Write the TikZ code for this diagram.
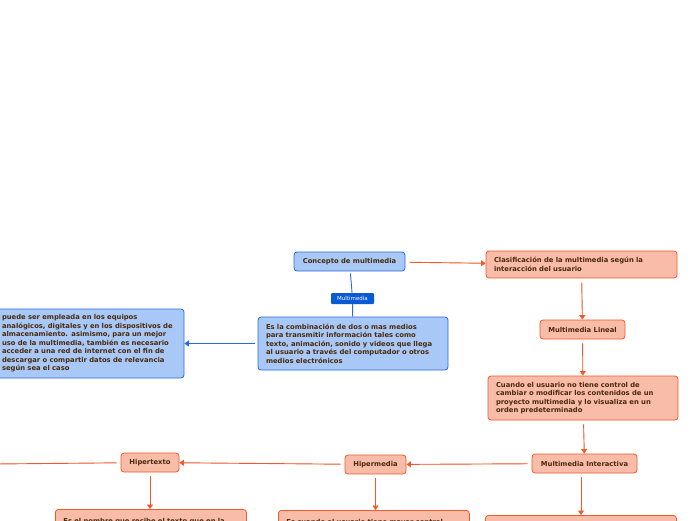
\documentclass[tikz,border=0pt]{standalone}
\usepackage{fontspec}
\setmainfont{DejaVu Sans}
\usetikzlibrary{arrows.meta,positioning}
\definecolor{bluefill}{HTML}{A8C8F8}
\definecolor{blueline}{HTML}{2A6AD8}
\definecolor{tagblue}{HTML}{0A5AD6}
\definecolor{orfill}{HTML}{F9BCA8}
\definecolor{orline}{HTML}{F2592B}
\definecolor{txt}{HTML}{4A2A0A}
\begin{document}
\begin{tikzpicture}[x=1pt, y=-1pt,
  every node/.style={font=\fontsize{6.8}{8.5}\selectfont\bfseries, text=txt},
  box/.style={draw, rounded corners=3pt, line width=0.8pt, inner sep=0pt, minimum height=19pt},
  bluebox/.style={box, fill=bluefill, draw=blueline},
  orbox/.style={box, fill=orfill, draw=orline},
  para/.style={align=left, inner xsep=8pt},
  tag/.style={fill=tagblue, text=white, rounded corners=1pt, inner sep=0pt,
    minimum width=43pt, minimum height=11pt, font=\fontsize{5.5}{6}\selectfont},
  bconn/.style={draw=blueline, line width=0.9pt},
  oconn/.style={-{Triangle[width=6pt,length=4.5pt]}, draw=orline, fill=orline, line width=0.9pt, shorten <=4pt}]
\useasboundingbox (0,0) rectangle (696,520);
\clip (0,0) rectangle (696,520);
% blue part
\node[bluebox, minimum width=111pt] (concept) at (349.5,261.5) {Concepto de multimedia};
\node[tag] (mmtag) at (352.5,298.5) {Multimedia};
\node[bluebox, para, text width=174pt, minimum height=53pt] (define) at (353,343.5)
  {Es la combinación de dos o mas medios\\para transmitir información tales como\\texto, animación, sonido y videos que llega\\al usuario a través del computador o otros\\medios electrónicos};
\node[bluebox, para, inner xsep=7pt, text width=175pt, minimum height=69pt] (uses) at (89.5,343.5)
  {puede ser empleada en los equipos\\analógicos, digitales y en los dispositivos de\\almacenamiento. asimismo, para un mejor\\uso de la multimedia, también es necesario\\acceder a una red de internet con el fin de\\descargar o compartir datos de relevancia\\según sea el caso};
\draw[bconn, shorten <=2pt] (concept) -- (mmtag);
\draw[bconn] (mmtag) -- (define);
\draw[bconn, -{Triangle[width=6pt,length=4.5pt]}, fill=blueline, shorten <=3pt] (define) -- (uses);
% orange part
\node[orbox, para, text width=175pt, minimum height=27pt] (clasif) at (581.5,264.5)
  {Clasificación de la multimedia según la\\interacción del usuario};
\node[orbox, minimum width=85pt] (lineal) at (582.5,329.5) {Multimedia Lineal};
\node[orbox, para, text width=174pt, minimum height=44pt] (nocontrol) at (583,398)
  {Cuando el usuario no tiene control de\\cambiar o modificar los contenidos de un\\proyecto multimedia y lo visualiza en un\\orden predeterminado};
\node[orbox, minimum width=105pt] (interact) at (584.5,463.5) {Multimedia Interactiva};
\node[orbox, minimum width=61pt] (hipermedia) at (375.5,464.5) {Hipermedia};
\node[orbox, minimum width=58pt] (hipertexto) at (150,462.5) {Hipertexto};
\node[orbox, para, anchor=north west, text width=175pt, inner ysep=5pt, minimum height=24pt] (nombre) at (55,509)
  {Es el nombre que recibe el texto que en la};
\node[orbox, para, anchor=north west, text width=175pt, inner ysep=5pt, minimum height=24pt] (control) at (278,510)
  {Es cuando el usuario tiene mayor control};
\node[orbox, anchor=north west, minimum width=191pt, minimum height=30pt] (third) at (485,515) {};
\coordinate (offleft) at (-5,464);
\draw[oconn] (concept) -- (clasif);
\draw[oconn] (clasif) -- (lineal);
\draw[oconn] (lineal) -- (nocontrol);
\draw[oconn] (nocontrol) -- (interact);
\draw[oconn] (interact) -- (hipermedia);
\draw[oconn] (hipermedia) -- (hipertexto);
\draw[oconn, -] (hipertexto) -- (offleft);
\draw[oconn] (hipertexto) -- (nombre.north -| hipertexto);
\draw[oconn] (hipermedia) -- (control.north -| hipermedia);
\draw[oconn] (interact.south -| 581,0) -- (third.north -| 581,0);
\end{tikzpicture}
\end{document}
